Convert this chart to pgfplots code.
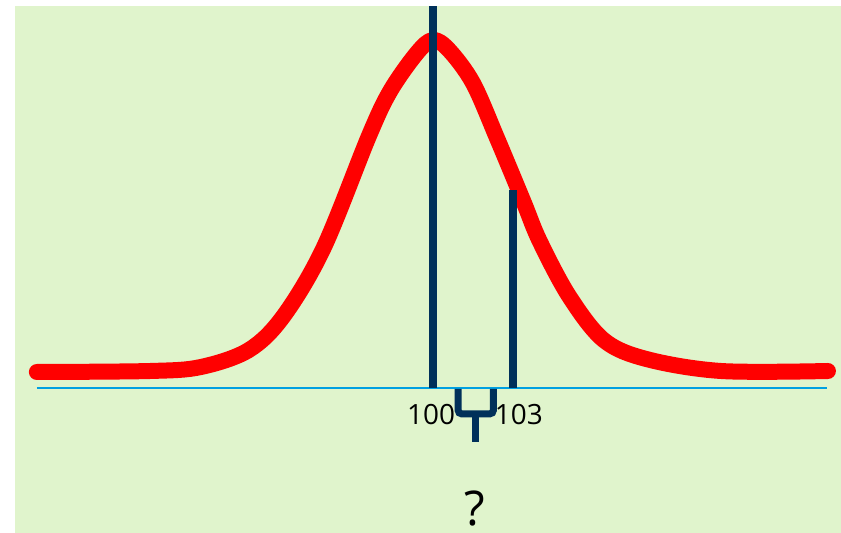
\documentclass[border=0pt]{standalone}
\usepackage{fontspec}
\setmainfont{Open Sans}
\usepackage{pgfplots}
\pgfplotsset{compat=1.18}

\definecolor{bggreen}{RGB}{224,244,204}
\definecolor{navy}{RGB}{0,48,90}
\definecolor{axisblue}{RGB}{0,160,225}

\begin{document}
\begin{tikzpicture}
\begin{axis}[
    scale only axis,
    width=826bp,
    height=527bp,
    xmin=84.33, xmax=115.30,
    ymin=-145, ymax=382,
    axis line style={draw=none},
    ticks=none,
    axis background/.style={fill=bggreen},
    clip=false,
]
% baseline
\addplot[axisblue, line width=1.5bp] coordinates {(85.15,0) (114.77,0)};

% bell curve
\addplot[red, line width=16bp, line cap=round, line join=round, smooth, tension=0.55] coordinates {
    (85.15,16) (89.4,17) (91.3,21) (93.1,38) (94.4,72) (95.9,140)
    (97.6,252) (98.4,297) (99.4,335) (100,348)
    (100.6,338) (101.5,305) (102.4,250) (103.4,186) (104.0,147)
    (105.1,92) (106.4,48) (108.0,29) (110.8,17) (114.81,17)
};

% mean and observed value
\addplot[navy, line width=8bp] coordinates {(100,0) (100,382)};
\addplot[navy, line width=8bp] coordinates {(103,0) (103,198)};

% brace between the two
\draw[navy, line width=7bp, rounded corners=4bp]
    (axis cs:100.94,-1) -- (axis cs:100.94,-26) -- (axis cs:102.27,-26) -- (axis cs:102.27,-1);
\draw[navy, line width=7bp] (axis cs:101.60,-26) -- (axis cs:101.60,-54);

\node[anchor=base, font=\fontsize{28}{30}\selectfont, inner sep=0pt] at (axis cs:99.93,-37) {100};
\node[anchor=base, font=\fontsize{28}{30}\selectfont, inner sep=0pt] at (axis cs:103.22,-37) {103};
\node[anchor=base, font=\fontsize{48}{52}\selectfont, inner sep=0pt] at (axis cs:101.58,-137) {?};

\path (rel axis cs:0,1) ++(-15bp,6bp);
\end{axis}
\end{tikzpicture}
\end{document}
